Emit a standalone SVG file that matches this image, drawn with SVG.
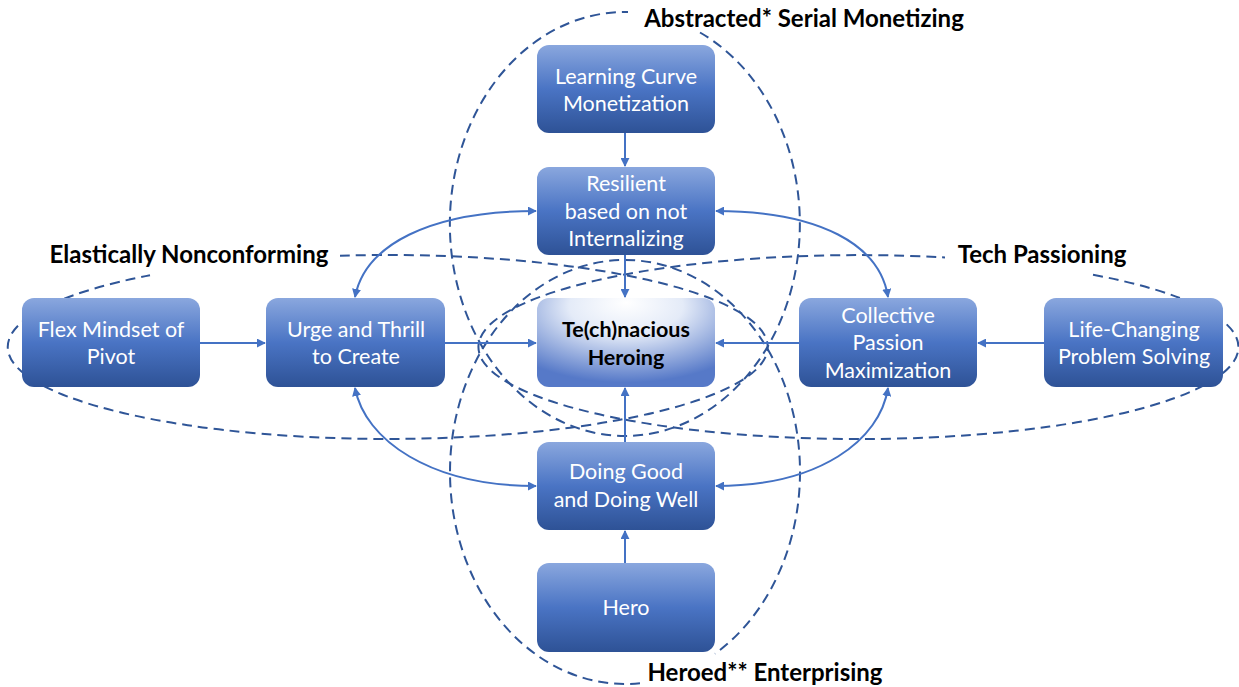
<svg xmlns="http://www.w3.org/2000/svg" width="1239" height="687" viewBox="0 0 1239 687">
<defs>
<linearGradient id="boxGrad" x1="0" y1="0" x2="0" y2="1">
<stop offset="0" stop-color="#8aa7de"/>
<stop offset="0.5" stop-color="#4a74c4"/>
<stop offset="1" stop-color="#2e5296"/>
</linearGradient>
<radialGradient id="centerGrad" cx="0.5" cy="0.15" r="0.8" fx="0.5" fy="0.05">
<stop offset="0" stop-color="#ffffff"/>
<stop offset="0.4" stop-color="#e4ebf8"/>
<stop offset="1" stop-color="#5679c8"/>
</radialGradient>
<marker id="arr" viewBox="0 0 10 10" refX="9" refY="5" markerWidth="9" markerHeight="9" markerUnits="userSpaceOnUse" orient="auto-start-reverse">
<path d="M0,0 L10,5 L0,10 Z" fill="#4472c4"/>
</marker>
<style>
.ell{fill:none;stroke:#2f5597;stroke-width:2;stroke-dasharray:10 6}
.con{fill:none;stroke:#4472c4;stroke-width:2}
.box{fill:url(#boxGrad)}
.txt{font-family:Lato,"Open Sans",sans-serif;font-size:21.5px;fill:#ffffff;text-anchor:middle}
.ctr{font-family:Lato,"Open Sans",sans-serif;font-size:21.5px;font-weight:bold;fill:#000000;text-anchor:middle}
.lbl{font-family:Lato,"Open Sans",sans-serif;font-size:24px;font-weight:bold;fill:#000000;text-anchor:middle}
</style>
</defs>
<rect width="1239" height="687" fill="#ffffff"/>
<g id="regions">
<path class="ell" d="M340,255.7 A380,92 0 1 1 150,275.2"/>
<path class="ell" d="M1093,274.7 A380,92 0 1 1 945,257.5"/>
<path class="ell" d="M700,32.5 A175,212 0 1 1 628,12"/>
<path class="ell" d="M640,683.2 A175,212 0 1 1 715,653.8"/>
<text class="lbl" x="804" y="27">Abstracted* Serial Monetizing</text>
<text class="lbl" x="189" y="263">Elastically Nonconforming</text>
<text class="lbl" x="1042" y="263">Tech Passioning</text>
<text class="lbl" x="765" y="681">Heroed** Enterprising</text>
</g>
<g id="connectors">
<line class="con" x1="625" y1="133" x2="625" y2="166" marker-end="url(#arr)"/>
<line class="con" x1="625" y1="255" x2="625" y2="297" marker-end="url(#arr)"/>
<line class="con" x1="625" y1="442" x2="625" y2="388" marker-end="url(#arr)"/>
<line class="con" x1="625" y1="563" x2="625" y2="531" marker-end="url(#arr)"/>
<line class="con" x1="200" y1="343" x2="265" y2="343" marker-end="url(#arr)"/>
<line class="con" x1="445" y1="343" x2="536" y2="343" marker-end="url(#arr)"/>
<line class="con" x1="1044" y1="343" x2="978" y2="343" marker-end="url(#arr)"/>
<line class="con" x1="799" y1="343" x2="716" y2="343" marker-end="url(#arr)"/>
<path class="con" d="M355,297 C365,245 430,211 536,211" marker-start="url(#arr)" marker-end="url(#arr)"/>
<path class="con" d="M716,211 C820,211 880,245 888,297" marker-start="url(#arr)" marker-end="url(#arr)"/>
<path class="con" d="M355,388 C365,440 430,486 536,486" marker-start="url(#arr)" marker-end="url(#arr)"/>
<path class="con" d="M716,486 C820,486 880,440 888,388" marker-start="url(#arr)" marker-end="url(#arr)"/>
</g>
<g id="n-learning">
<rect class="box" x="537" y="45" width="178" height="88" rx="12"/>
<text class="txt" x="626" y="84">Learning Curve</text>
<text class="txt" x="626" y="111">Monetization</text>
</g>
<g id="n-resilient">
<rect class="box" x="537" y="167" width="178" height="88" rx="12"/>
<text class="txt" x="626" y="191">Resilient</text>
<text class="txt" x="626" y="219">based on not</text>
<text class="txt" x="626" y="246">Internalizing</text>
</g>
<g id="n-center">
<rect x="537" y="298" width="178" height="89" rx="12" fill="url(#centerGrad)"/>
<text class="ctr" x="626" y="337">Te(ch)nacious</text>
<text class="ctr" x="626" y="365">Heroing</text>
</g>
<g id="n-doing">
<rect class="box" x="537" y="442" width="178" height="88" rx="12"/>
<text class="txt" x="626" y="479">Doing Good</text>
<text class="txt" x="626" y="507">and Doing Well</text>
</g>
<g id="n-hero">
<rect class="box" x="537" y="563" width="178" height="89" rx="12"/>
<text class="txt" x="626" y="615">Hero</text>
</g>
<g id="n-flex">
<rect class="box" x="22" y="298" width="178" height="89" rx="12"/>
<text class="txt" x="111" y="337">Flex Mindset of</text>
<text class="txt" x="111" y="364">Pivot</text>
</g>
<g id="n-urge">
<rect class="box" x="266" y="298" width="179" height="89" rx="12"/>
<text class="txt" x="356" y="337">Urge and Thrill</text>
<text class="txt" x="356" y="364">to Create</text>
</g>
<g id="n-collective">
<rect class="box" x="799" y="298" width="178" height="89" rx="12"/>
<text class="txt" x="888" y="323">Collective</text>
<text class="txt" x="888" y="350">Passion</text>
<text class="txt" x="888" y="378">Maximization</text>
</g>
<g id="n-life">
<rect class="box" x="1044" y="298" width="179" height="89" rx="12"/>
<text class="txt" x="1134" y="337">Life-Changing</text>
<text class="txt" x="1134" y="364">Problem Solving</text>
</g>
</svg>
